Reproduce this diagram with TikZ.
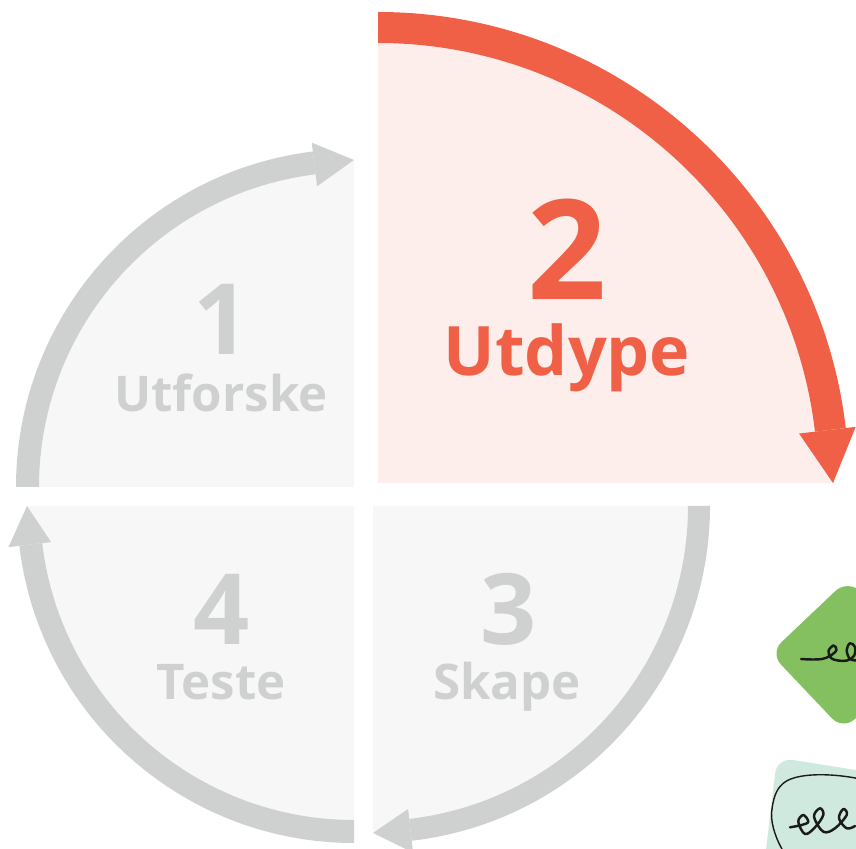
\documentclass[tikz,border=0pt]{standalone}
\usepackage{fontspec}
\setmainfont{Open Sans}
\usetikzlibrary{positioning}
\definecolor{PhaseRed}{HTML}{EF6046}
\definecolor{PhaseRose}{HTML}{FDEEEB}
\definecolor{PhaseGrey}{HTML}{F7F7F7}
\definecolor{ArrowGrey}{HTML}{CFD1D0}
\definecolor{NoteGreen}{HTML}{85C060}
\definecolor{NoteMint}{HTML}{D0E9DE}
\definecolor{NoteInk}{HTML}{1A1A1A}
\tikzset{
    bignum/.style={anchor=base, inner sep=0pt, font=\bfseries\fontsize{56}{56}\selectfont, text=ArrowGrey},
    bigword/.style={anchor=base, inner sep=0pt, font=\bfseries\fontsize{28}{28}\selectfont, text=ArrowGrey},
    squiggle/.style={draw=NoteInk, line width=1.4pt, line cap=round, line join=round}
}
\begin{document}
\begin{tikzpicture}[x=0.02cm, y=0.02cm]

    \useasboundingbox (0,0) rectangle (856,849);
    \clip (0,0) rectangle (856,849);

    % Utdype
    \begin{scope}[shift={(378,366)}]
        \fill[PhaseRose] (0,0) -- (0,455) arc (90:0:455) -- cycle;
        \fill[PhaseRed] (90:471) arc (90:6.7:471) -- (6.7:440) arc (6.7:90:440) -- cycle;
        \fill[PhaseRed] (6.7:424) -- (6.7:481) -- (0:455) -- cycle;
    \end{scope}

    % Utforske
    \begin{scope}[shift={(354,362)}]
        \fill[PhaseGrey] (0,0) -- (-327,0) arc (180:90:327) -- cycle;
        \fill[ArrowGrey] (180:338) arc (180:97:338) -- (97:315) arc (97:180:315) -- cycle;
        \fill[ArrowGrey] (97:303) -- (97:347) -- (90:327) -- cycle;
    \end{scope}

    % Skape
    \begin{scope}[shift={(373,343)}]
        \fill[PhaseGrey] (0,0) -- (327,0) arc (0:-90:327) -- cycle;
        \fill[ArrowGrey] (0:337) arc (0:-83.4:337) -- (-83.4:315) arc (-83.4:0:315) -- cycle;
        \fill[ArrowGrey] (-83.4:305) -- (-83.4:349) -- (-90:327) -- cycle;
    \end{scope}

    % Teste
    \begin{scope}[shift={(354,343)}]
        \fill[PhaseGrey] (0,0) -- (0,-327) arc (-90:-180:327) -- cycle;
        \fill[ArrowGrey] (-90:337) arc (-90:-173.2:337) -- (-173.2:314) arc (-173.2:-90:314) -- cycle;
        \fill[ArrowGrey] (-173.2:305) -- (-173.2:348) -- (180:327) -- cycle;
    \end{scope}

    % Labels
    \node[bignum, text=PhaseRed, font=\bfseries\fontsize{79}{79}\selectfont] (numTwo) at (567,549) {2};
    \node[bigword, text=PhaseRed, font=\bfseries\fontsize{38.8}{38.8}\selectfont] (wordTwo) at (567,473) {Utdype};
    \node[bignum] (numOne) at (222,494) {1};
    \node[bigword] (wordOne) at (221,437) {Utforske};
    \node[bignum] (numThree) at (509,204) {3};
    \node[bigword] (wordThree) at (507,149) {Skape};
    \node[bignum] (numFour) at (222,204) {4};
    \node[bigword] (wordFour) at (221,149) {Teste};

    % Green note
    \fill[NoteGreen, rounded corners=9pt] (770,196) -- (847,269) -- (930,200) -- (843,119) -- cycle;
    \draw[squiggle] plot[smooth, tension=0.6] coordinates {(801,190) (812,189.5) (822,190) (830,193) (836.5,199) (833.5,203.5) (828.5,198) (831,191) (838,188.5) (847,188.5) (854,193) (855,202) (850,205.7) (846.7,199) (850,190) (858,188.5)};

    % Mint note
    \fill[NoteMint, rounded corners=9pt] (777,91.5) -- (900,72) -- (900,-20) -- (763.7,-20) -- cycle;
    \draw[NoteInk, line width=0.8pt] (782,0) .. controls (774,14) and (770,30) .. (772,40)
        .. controls (774,55) and (778,62) .. (785,67) .. controls (798,76) and (830,76) .. (858,70.5);
    \draw[squiggle] plot[smooth, tension=0.6] coordinates {(790,21.7) (801.7,24) (808.3,27.3) (803.3,34) (798.3,27.3) (805,15) (815,21.7) (823.3,34) (820,40.7) (814,32.3) (823.3,17.3) (835,20.7) (846.7,34) (843.3,40) (839,30.7) (846.7,20.7) (855,23)};

\end{tikzpicture}
\end{document}
